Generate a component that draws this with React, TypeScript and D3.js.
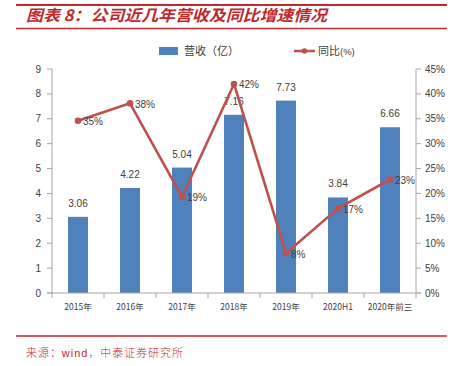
import React from "react";
import * as d3 from "d3";

const categories = ["2015年", "2016年", "2017年", "2018年", "2019年", "2020H1", "2020年前三"];
const revenue = [3.06, 4.22, 5.04, 7.16, 7.73, 3.84, 6.66];
const revenueLabels = ["3.06", "4.22", "5.04", "7.16", "7.73", "3.84", "6.66"];
const growth = [0.346, 0.381, 0.193, 0.42, 0.08, 0.17, 0.228];
const growthLabels = ["35%", "38%", "19%", "42%", "8%", "17%", "23%"];
const leftTicks = [0, 1, 2, 3, 4, 5, 6, 7, 8, 9];
const rightTicks = [0, 0.05, 0.1, 0.15, 0.2, 0.25, 0.3, 0.35, 0.4, 0.45];

const W = 457;
const H = 366;
const plot = { left: 52, right: 416, top: 69, bottom: 293 };
const RED = "#C0282D";
const BAR = "#4F81BD";
const LINE = "#C0504D";
const TXT = "#404040";
const NUM_FONT = "'Liberation Sans', Arial, sans-serif";
const CJK = "'Noto Sans CJK SC', sans-serif";

export default function App() {
  const xb = d3.scaleBand<string>().domain(categories).range([plot.left, plot.right]);
  const yL = d3.scaleLinear().domain([0, 9]).range([plot.bottom, plot.top]);
  const yR = d3.scaleLinear().domain([0, 0.45]).range([plot.bottom, plot.top]);
  const cx = (c: string) => (xb(c) as number) + xb.bandwidth() / 2;
  const line = d3
    .line<number>()
    .x((_, i) => cx(categories[i]))
    .y((d) => yR(d));

  return (
    <svg width={W} height={H} style={{ position: "absolute", left: 0, top: 0, background: "#fff" }}>
      {/* header */}
      <line x1={16} x2={447} y1={5} y2={5} stroke={RED} strokeWidth={2} />
      <text x={26} y={21} fontFamily={CJK} fontSize={15.5} fontWeight="bold" fontStyle="italic" fill={RED} textLength={301} lengthAdjust="spacingAndGlyphs">
        图表 8：公司近几年营收及同比增速情况
      </text>
      <line x1={16} x2={447} y1={28.5} y2={28.5} stroke={RED} strokeWidth={1.3} />

      {/* legend */}
      <rect x={159} y={47} width={19} height={8} fill={BAR} />
      <text x={184} y={55} fontFamily={CJK} fontSize={11} fill={TXT}>营收（亿）</text>
      <line x1={294} x2={315} y1={51} y2={51} stroke={LINE} strokeWidth={2.5} />
      <circle cx={304.5} cy={51} r={2.8} fill={LINE} />
      <text x={318} y={55} fontFamily={CJK} fontSize={11} fill={TXT}>同比<tspan fontFamily={NUM_FONT} fontSize={9.5}>(%)</tspan></text>

      {/* axes */}
      <line x1={plot.left} x2={plot.left} y1={plot.top} y2={plot.bottom} stroke="#A6A6A6" strokeWidth={1} />
      <line x1={plot.right} x2={plot.right} y1={plot.top} y2={plot.bottom} stroke="#A6A6A6" strokeWidth={1} />
      {leftTicks.map((t) => (
        <g key={"l" + t}>
          <line x1={plot.left - 5} x2={plot.left} y1={yL(t)} y2={yL(t)} stroke="#A6A6A6" />
          <text x={41} y={yL(t) + 3.5} textAnchor="end" fontFamily={NUM_FONT} fontSize={10} fill={TXT}>{t}</text>
        </g>
      ))}
      {rightTicks.map((t) => (
        <g key={"r" + t}>
          <line x1={plot.right} x2={plot.right + 5} y1={yR(t)} y2={yR(t)} stroke="#A6A6A6" />
          <text x={425} y={yR(t) + 3.5} fontFamily={NUM_FONT} fontSize={10} fill={TXT}>{Math.round(t * 100) + "%"}</text>
        </g>
      ))}

      {/* bars */}
      {categories.map((c, i) => (
        <g key={"b" + c}>
          <rect x={cx(c) - 10} y={yL(revenue[i])} width={20} height={plot.bottom - yL(revenue[i])} fill={BAR} />
          <text x={cx(c)} y={yL(revenue[i]) - 10} textAnchor="middle" fontFamily={NUM_FONT} fontSize={10} fill={TXT}>{revenueLabels[i]}</text>
        </g>
      ))}

      {/* bottom axis */}
      <line x1={plot.left - 5} x2={plot.right + 5} y1={plot.bottom} y2={plot.bottom} stroke="#A6A6A6" />
      {categories.map((c) => (
        <line key={"t" + c} x1={xb(c) as number} x2={xb(c) as number} y1={plot.bottom} y2={plot.bottom + 5} stroke="#A6A6A6" />
      ))}
      <line x1={plot.right} x2={plot.right} y1={plot.bottom} y2={plot.bottom + 5} stroke="#A6A6A6" />
      {categories.map((c) => (
        <text key={"x" + c} x={cx(c)} y={310} textAnchor="middle" fontFamily={CJK} fontSize={8.5} fill={TXT}>{c}</text>
      ))}

      {/* line */}
      <path d={line(growth) as string} fill="none" stroke={LINE} strokeWidth={2.6} strokeLinejoin="round" />
      {categories.map((c, i) => (
        <g key={"p" + c}>
          <circle cx={cx(c)} cy={yR(growth[i])} r={3.3} fill={LINE} />
          <text x={cx(c) + 5} y={yR(growth[i]) + 4.5} fontFamily={NUM_FONT} fontSize={10} fill={TXT}>{growthLabels[i]}</text>
        </g>
      ))}

      {/* footer */}
      <line x1={16} x2={447} y1={336} y2={336} stroke={RED} strokeWidth={1.3} />
      <text x={26} y={357} fontFamily={CJK} fontSize={11} fontWeight={300} fill={RED} textLength={157} lengthAdjust="spacing">来源：<tspan fontFamily={NUM_FONT}>wind</tspan>，中泰证券研究所</text>
    </svg>
  );
}
